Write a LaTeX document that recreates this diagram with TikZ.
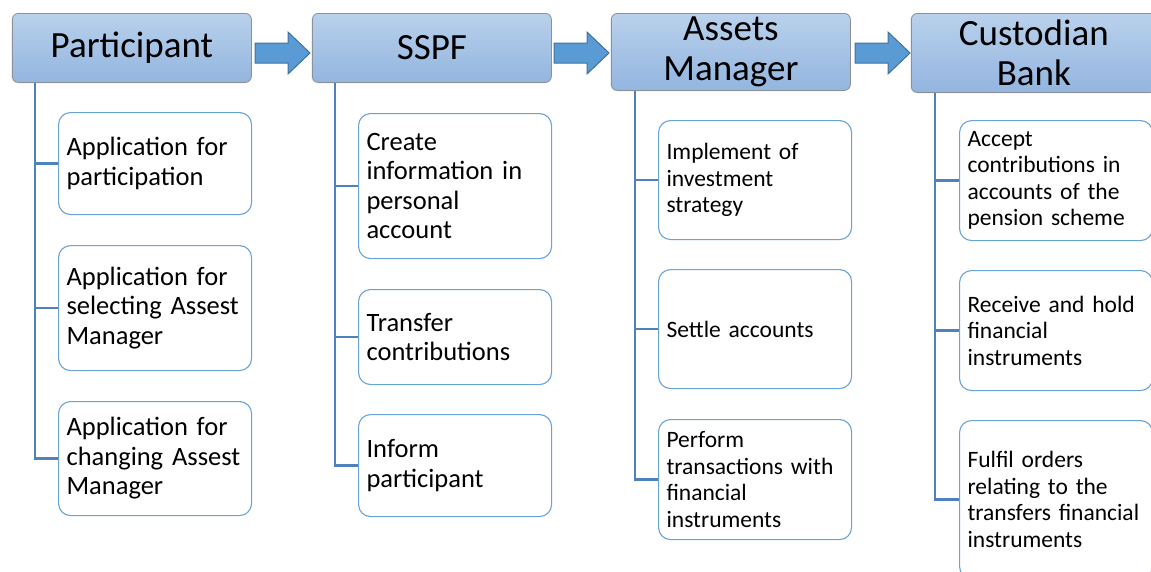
\documentclass[tikz,border=0pt]{standalone}
\usepackage{fontspec}
\setmainfont{Carlito}
\usetikzlibrary{shadows}
\definecolor{hdrtop}{HTML}{B9D1EC}
\definecolor{hdrbot}{HTML}{93B5DF}
\definecolor{hdrline}{HTML}{8C9099}
\definecolor{connblue}{HTML}{4F81BD}
\definecolor{boxblue}{HTML}{6AA2DA}
\definecolor{arrfill}{HTML}{5B9BD5}
\definecolor{arrline}{HTML}{41719C}
\tikzset{
  hdr/.style={rectangle, rounded corners=6pt, draw=hdrline, line width=0.8pt,
    top color=hdrtop, bottom color=hdrbot, anchor=north west,
    minimum width=239pt, align=center, inner sep=0pt,
    font=\fontsize{37}{40}\selectfont,
    drop shadow={opacity=0.2, shadow xshift=-1pt, shadow yshift=-1pt}},
  child/.style={rectangle, rounded corners=12pt, draw=boxblue, line width=1.1pt,
    fill=white, anchor=north west, text width=177pt, inner xsep=8pt, inner ysep=0pt,
    align=left},
  big/.style={font=\fontsize{26.5}{29.5}\selectfont},
  small/.style={font=\fontsize{23.5}{26.5}\selectfont},
  conn/.style={draw=connblue, line width=2.8pt},
  blockarrow/.style={fill=arrfill, draw=arrline, line width=1pt, line join=miter}
}
\newcommand{\blkarrow}[1]{%
  \draw[blockarrow] (#1) ++(-27,-10) -- ++(33,0) -- ++(0,-11) -- ++(22,21)
    -- ++(-22,21) -- ++(0,-11) -- ++(-33,0) -- cycle;}
\begin{document}
\begin{tikzpicture}[x=1pt,y=-1pt]
\useasboundingbox (0,0) rectangle (1151,571);
% headers
\node[hdr, minimum height=69pt] (p) at (12,13) {Participant};
\node[hdr, minimum height=69pt] (s) at (312,13) {SSPF};
\node[hdr, minimum height=77pt] (a) at (611,13) {Assets\\Manager};
\node[hdr, minimum height=79pt, minimum width=245pt] (c) at (911,13) {Custodian\\Bank};
% block arrows
\coordinate (a1) at (282,53);
\coordinate (a2) at (581,53);
\coordinate (a3) at (882,53);
\blkarrow{a1}
\blkarrow{a2}
\blkarrow{a3}
% Participant children
\node[child, big, minimum height=102pt] (p1) at (58,112) {Application for\\participation};
\node[child, big, minimum height=125pt] (p2) at (58,245) {Application for\\selecting Assest\\Manager};
\node[child, big, minimum height=114pt] (p3) at (58,401) {Application for\\changing Assest\\Manager};
% SSPF children
\node[child, big, minimum height=145pt] (s1) at (358,113) {Create\\information in\\personal\\account};
\node[child, big, minimum height=95pt] (s2) at (358,289) {Transfer\\contributions};
\node[child, big, minimum height=102pt] (s3) at (358,414) {Inform\\participant};
% Assets Manager children
\node[child, small, minimum height=119pt] (a1b) at (658,120) {Implement of\\investment\\strategy};
\node[child, small, minimum height=119pt] (a2b) at (658,269) {Settle accounts};
\node[child, small, minimum height=120pt] (a3b) at (658,419) {Perform\\transactions with\\financial\\instruments};
% Custodian children
\node[child, small, minimum height=120pt] (c1) at (959,120) {Accept\\contributions in\\accounts of the\\pension scheme};
\node[child, small, minimum height=120pt] (c2) at (959,270) {Receive and hold\\financial\\instruments};
\node[child, small, minimum height=158pt] (c3) at (959,420) {Fulfil orders\\relating to the\\transfers financial\\instruments};
% connectors
\coordinate (pt) at ([xshift=23pt]p.south west);
\coordinate (st) at ([xshift=23pt]s.south west);
\coordinate (at) at ([xshift=24pt]a.south west);
\coordinate (ct) at ([xshift=24pt]c.south west);
\draw[conn] (pt) |- (p3.west);
\draw[conn] (pt |- p1.west) -- (p1.west);
\draw[conn] (pt |- p2.west) -- (p2.west);
\draw[conn] (st) |- (s3.west);
\draw[conn] (st |- s1.west) -- (s1.west);
\draw[conn] (st |- s2.west) -- (s2.west);
\draw[conn] (at) |- (a3b.west);
\draw[conn] (at |- a1b.west) -- (a1b.west);
\draw[conn] (at |- a2b.west) -- (a2b.west);
\draw[conn] (ct) |- (c3.west);
\draw[conn] (ct |- c1.west) -- (c1.west);
\draw[conn] (ct |- c2.west) -- (c2.west);
\end{tikzpicture}
\end{document}
